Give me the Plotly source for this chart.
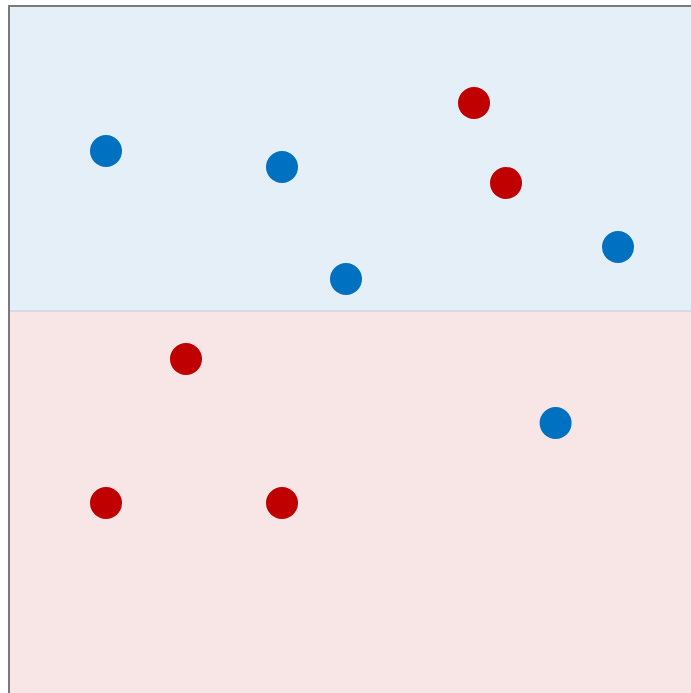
import plotly.graph_objects as go

# data (units on a 16px grid)
blue_x = [6, 17, 21, 38, 34.1]
blue_y = [34, 33, 26, 28, 17]
red_x = [29, 31, 11, 6, 17]
red_y = [37, 32, 21, 12, 12]
threshold = 24

W, H = 691, 693
ml, mt = 10, 7
x_range = [0, (W - ml) / 16]
y_top = 43
y_range = [y_top - (H - mt) / 16, y_top]

fig = go.Figure()
fig.add_trace(go.Scatter(x=blue_x, y=blue_y, mode="markers",
                         marker=dict(size=32, color="#0070c0", line=dict(width=0)),
                         showlegend=False, hoverinfo="skip"))
fig.add_trace(go.Scatter(x=red_x, y=red_y, mode="markers",
                         marker=dict(size=32, color="#c00000", line=dict(width=0)),
                         showlegend=False, hoverinfo="skip"))

fig.add_shape(type="rect", xref="x", yref="y", x0=x_range[0], x1=x_range[1] + 5,
              y0=threshold, y1=y_range[1] + 5, fillcolor="#e5eff8", line=dict(width=0), layer="below")
fig.add_shape(type="rect", xref="x", yref="y", x0=x_range[0], x1=x_range[1] + 5,
              y0=y_range[0] - 5, y1=threshold, fillcolor="#f8e5e6", line=dict(width=0), layer="below")
fig.add_shape(type="line", xref="x", yref="y", x0=x_range[0], x1=x_range[1] + 5,
              y0=threshold, y1=threshold, line=dict(color="#d9d8e6", width=2), layer="below")

fig.update_layout(
    width=W, height=H,
    margin=dict(l=ml, t=mt, r=0, b=0, pad=0),
    paper_bgcolor="white", plot_bgcolor="white",
    xaxis=dict(range=x_range, side="top", showline=True, linecolor="#7a7a7a", linewidth=2,
               showgrid=False, zeroline=False, showticklabels=False, ticks=""),
    yaxis=dict(range=y_range, showline=True, linecolor="#7a7a7a", linewidth=2,
               showgrid=False, zeroline=False, showticklabels=False, ticks=""),
)
fig.write_html(
    "out.html",
    config={"displayModeBar": False},
    post_script="document.body.style.margin='0';document.body.style.overflow='hidden';"
                "document.documentElement.style.overflow='hidden';",
)
